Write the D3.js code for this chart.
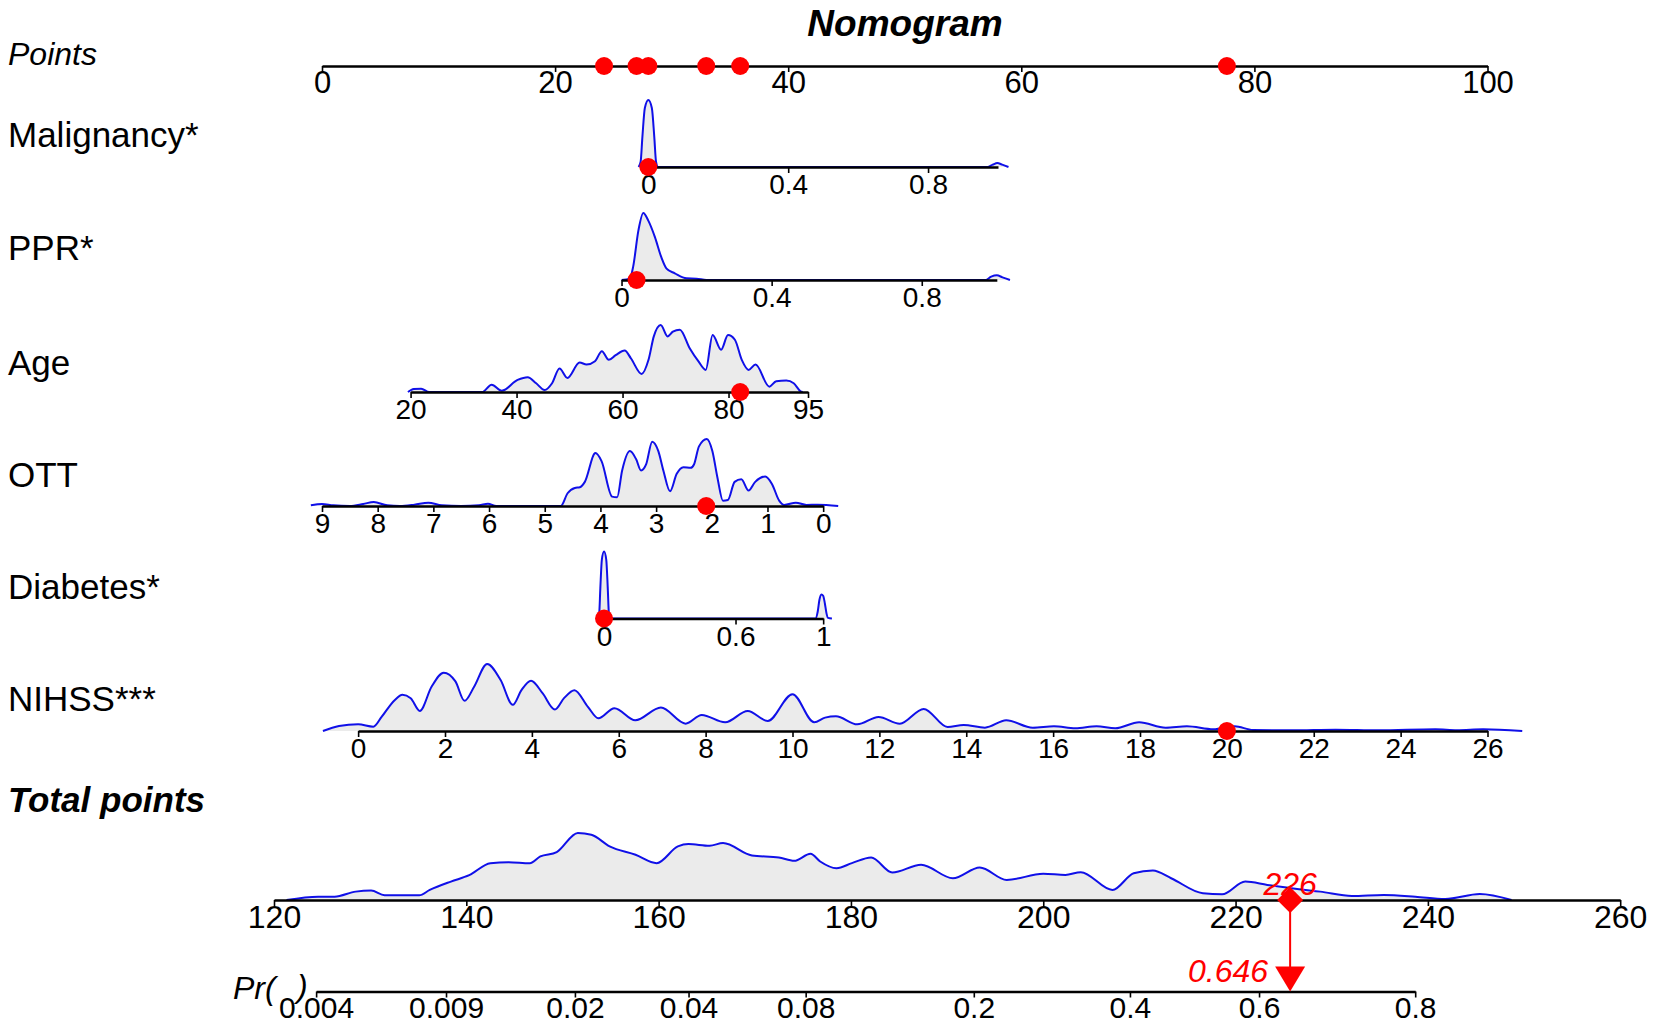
<!DOCTYPE html>
<html>
<head>
<meta charset="utf-8">
<script src="https://cdn.jsdelivr.net/npm/d3@7"></script>
<style>
  body { margin: 0; background: #fff; }
</style>
</head>
<body>
<div id="container"></div>
<script>
const container = document.getElementById('container');

const w = 1654;
const h = 1026;
const FONT = '"Liberation Sans", Arial, sans-serif';

// ---- data ----
const pointTicks = [0, 20, 40, 60, 80, 100];

const varNames = ['Malignancy*', 'PPR*', 'Age', 'OTT', 'Diabetes*', 'NIHSS***'];
const varDomains = [[0, 1], [0, 1], [20, 95], [9, 0], [0, 1], [0, 26]];
// points given at each end of the variable axis
const varPoints = [[28.0, 58.0], [25.7, 57.9], [7.6, 41.7], [0, 43.0], [24.2, 43.0], [3.1, 100]];
const varTicks = [
  [0, 0.4, 0.8],
  [0, 0.4, 0.8],
  [20, 40, 60, 80, 95],
  [9, 8, 7, 6, 5, 4, 3, 2, 1, 0],
  [0, 0.6, 1],
  [0, 2, 4, 6, 8, 10, 12, 14, 16, 18, 20, 22, 24, 26]
];
// the patient shown with red dots
const patientValues = [0, 0.04, 82.2, 2.1, 0, 20];

// density outlines: [value, relative height]
const malignancyDens = [[-0.028, 0], [-0.022, 0.08], [-0.017, 0.45], [-0.01, 0.88], [0, 1], [0.01, 0.88],
  [0.017, 0.45], [0.022, 0.08], [0.028, 0], [0.97, 0], [0.985, 0.035], [0.998, 0.06], [1.012, 0.035], [1.03, 0]];
const pprDens = [[0, 0], [0.022, 0.02], [0.031, 0.2], [0.045, 0.74], [0.058, 1.0], [0.071, 0.89], [0.089, 0.64],
  [0.106, 0.34], [0.12, 0.17], [0.142, 0.1], [0.173, 0.025], [0.2, 0.02], [0.226, 0], [0.97, 0],
  [0.985, 0.05], [1.0, 0.07], [1.015, 0.04], [1.035, 0]];
const ageDens = [[19.5, 0], [20.6, 0.045], [22, 0.05], [23.5, 0], [33.5, 0], [35.3, 0.11], [37.2, 0.02],
  [40.2, 0.18], [42.1, 0.22], [43.7, 0.13], [45.3, 0.03], [46.7, 0.13], [48.1, 0.35], [49.6, 0.21],
  [51.9, 0.44], [53.2, 0.41], [54.8, 0.46], [56.1, 0.61], [57.4, 0.48], [58.7, 0.55], [60.4, 0.62],
  [61.6, 0.5], [63.6, 0.27], [64.9, 0.48], [65.9, 0.83], [67.2, 1.0], [68.5, 0.83], [69.5, 0.9],
  [70.8, 0.93], [72.7, 0.65], [74.3, 0.46], [75.7, 0.33], [77.0, 0.85], [78.6, 0.63], [79.9, 0.85],
  [81.2, 0.78], [82.5, 0.48], [83.8, 0.33], [85.1, 0.41], [87.7, 0.08], [89.0, 0.16], [90.9, 0.17],
  [92.3, 0.13], [93.6, 0.01], [94, 0]];
const ottDens = [[9.2, 0.01], [9.0, 0.03], [8.8, 0.01], [8.5, 0], [8.26, 0.03], [8.07, 0.06], [7.83, 0.01],
  [7.6, 0], [7.34, 0.02], [7.09, 0.05], [6.85, 0.01], [6.5, 0], [6.18, 0.01], [6.02, 0.035], [5.87, 0],
  [4.71, 0], [4.59, 0.19], [4.46, 0.27], [4.37, 0.28], [4.28, 0.36], [4.09, 0.79], [3.98, 0.67],
  [3.79, 0.14], [3.70, 0.13], [3.61, 0.53], [3.47, 0.82], [3.36, 0.70], [3.27, 0.53], [3.18, 0.62],
  [3.07, 0.96], [2.96, 0.82], [2.87, 0.53], [2.75, 0.22], [2.63, 0.48], [2.51, 0.58], [2.38, 0.57],
  [2.32, 0.62], [2.23, 0.89], [2.09, 1.0], [1.99, 0.82], [1.90, 0.43], [1.80, 0.08], [1.71, 0.09],
  [1.59, 0.36], [1.47, 0.40], [1.34, 0.23], [1.22, 0.36], [1.04, 0.44], [0.92, 0.33], [0.79, 0.08],
  [0.70, 0.015], [0.49, 0.05], [0.30, 0.015], [0.1, 0.02], [-0.27, 0]];
const diabetesDens = [[-0.028, 0], [-0.022, 0.08], [-0.017, 0.45], [-0.01, 0.88], [0, 1], [0.01, 0.88],
  [0.017, 0.45], [0.022, 0.08], [0.028, 0], [0.965, 0], [0.975, 0.1], [0.983, 0.28], [0.992, 0.36],
  [1.0, 0.34], [1.008, 0.22], [1.015, 0.08], [1.022, 0.01], [1.04, 0]];
const nihssDens = [[-0.81, 0], [-0.44, 0.075], [0, 0.10], [0.35, 0.065], [0.54, 0.21], [0.84, 0.46],
  [1.02, 0.54], [1.21, 0.49], [1.42, 0.30], [1.69, 0.66], [1.97, 0.87], [2.24, 0.74], [2.45, 0.45],
  [2.67, 0.66], [2.97, 1.0], [3.28, 0.76], [3.56, 0.39], [3.76, 0.61], [3.98, 0.75], [4.25, 0.56],
  [4.53, 0.32], [4.74, 0.49], [4.98, 0.61], [5.29, 0.36], [5.53, 0.19], [5.90, 0.34], [6.38, 0.16],
  [6.97, 0.35], [7.54, 0.11], [7.91, 0.24], [8.45, 0.13], [8.97, 0.30], [9.43, 0.15], [10.0, 0.55],
  [10.5, 0.13], [10.75, 0.2], [11.0, 0.22], [11.49, 0.10], [11.98, 0.21], [12.47, 0.11], [13.02, 0.33],
  [13.57, 0.06], [13.94, 0.09], [14.43, 0.05], [14.92, 0.16], [15.53, 0.05], [16.02, 0.07], [16.51, 0.04],
  [17.0, 0.07], [17.43, 0.04], [17.98, 0.13], [18.59, 0.05], [19.08, 0.07], [19.69, 0.025], [20.18, 0.07],
  [20.6, 0.015], [21.5, 0.01], [22.5, 0.02], [23.5, 0.01], [24.8, 0.025], [25.3, 0.012], [25.9, 0.025],
  [26.8, 0]];
const varDens = [malignancyDens, pprDens, ageDens, ottDens, diabetesDens, nihssDens];

const totalTicks = [120, 140, 160, 180, 200, 220, 240, 260];
const totalDens = [[121.3, 0], [124.6, 0.05], [126.3, 0.05], [128.5, 0.125], [130.1, 0.14], [131.5, 0.07],
  [135.1, 0.07], [136.2, 0.15], [138.4, 0.275], [140.3, 0.37], [142.5, 0.55], [144.4, 0.565], [146.6, 0.55],
  [147.7, 0.65], [149.4, 0.715], [151.6, 1.0], [153.0, 0.975], [154.9, 0.8], [157.6, 0.675], [159.8, 0.55],
  [162.0, 0.8], [163.1, 0.835], [165.3, 0.81], [166.7, 0.85], [169.7, 0.665], [172.5, 0.635], [174.1, 0.585],
  [175.8, 0.69], [176.8, 0.575], [178.5, 0.475], [180.1, 0.55], [182.1, 0.635], [184.3, 0.41], [187.3, 0.525],
  [190.6, 0.325], [193.4, 0.485], [196.2, 0.3], [200.0, 0.39], [202.3, 0.375], [203.9, 0.415], [207.2, 0.15],
  [209.4, 0.4], [211.4, 0.44], [213.3, 0.325], [216.6, 0.1], [218.6, 0.085], [221.0, 0.275], [223.3, 0.225],
  [226.6, 0.16], [228.8, 0.125], [232.1, 0.06], [235.4, 0.075], [238.7, 0.05], [241.8, 0.015], [245.4, 0.09],
  [248.7, 0]];

const prTicks = [0.004, 0.009, 0.02, 0.04, 0.08, 0.2, 0.4, 0.6, 0.8];
const logitIntercept = -13.03;
const logitSlope = 0.0604;

// ---- layout ----
const pointsY = 66;
const rowY = [167, 280, 392, 506, 618.5, 731];
const labelY = [147, 260, 375, 487, 599, 711];
const totalY = 900;
const prY = 991.5;

const svg = d3.select(container)
    .append('svg')
    .attr('width', w)
    .attr('height', h)
    .style('background', '#fff');

const pointsX = d3.scaleLinear().domain([0, 100]).range([322, 1487.5]);
const totalX = d3.scaleLinear().domain([120, 260]).range([274, 1620.2]);
const densH = d3.scaleLinear().domain([0, 1]).range([0, 67]);

const logit = p => Math.log(p / (1 - p));
const tpOf = p => (logit(p) - logitIntercept) / logitSlope;
const prX = d3.scaleLinear()
    .domain([logit(prTicks[0]), logit(prTicks[prTicks.length - 1])])
    .range([totalX(tpOf(prTicks[0])), totalX(tpOf(prTicks[prTicks.length - 1]))]);

function drawAxis(y, scale, ticks, fs, off, fmt) {
  const axis = d3.axisBottom(scale).tickValues(ticks).tickSize(6).tickSizeOuter(0)
      .tickFormat(fmt || (d => String(d)));
  const g = svg.append('g')
      .attr('transform', `translate(0,${y})`)
      .call(axis)
      .attr('font-size', fs)
      .attr('font-family', FONT);
  g.select('.domain').attr('stroke', '#000').attr('stroke-width', 2.5);
  g.selectAll('.tick line').attr('stroke', '#000').attr('stroke-width', 1.6);
  g.selectAll('.tick text').attr('dy', null).attr('y', off).attr('fill', '#000');
  return g;
}

function drawDensity(y, scale, data) {
  const pts = data.slice().sort((a, b) => scale(a[0]) - scale(b[0]));
  const area = d3.area()
      .x(d => scale(d[0]))
      .y0(y)
      .y1(d => y - densH(d[1]))
      .curve(d3.curveMonotoneX);
  const line = d3.line()
      .x(d => scale(d[0]))
      .y(d => y - densH(d[1]))
      .curve(d3.curveMonotoneX);
  svg.append('path').datum(pts).attr('d', area).attr('fill', '#ebebeb');
  svg.append('path').datum(pts).attr('d', line)
      .attr('fill', 'none').attr('stroke', '#1010e8').attr('stroke-width', 2);
}

function rowLabel(txt, y, fs, style, weight) {
  svg.append('text')
      .attr('x', 8)
      .attr('y', y)
      .attr('font-family', FONT)
      .attr('font-size', fs)
      .attr('font-style', style || 'normal')
      .attr('font-weight', weight || 'normal')
      .text(txt);
}

// title
svg.append('text')
    .attr('x', 905)
    .attr('y', 36)
    .attr('text-anchor', 'middle')
    .attr('font-family', FONT)
    .attr('font-size', 37)
    .attr('font-style', 'italic')
    .attr('font-weight', 'bold')
    .text('Nomogram');

// points row
rowLabel('Points', 65, 32, 'italic');
drawAxis(pointsY, pointsX, pointTicks, 31, 27);

let total = 0;
const dotXs = [];

varNames.forEach((name, i) => {
  const toPoints = d3.scaleLinear().domain(varDomains[i]).range(varPoints[i]);
  const x = d3.scaleLinear().domain(varDomains[i]).range(varPoints[i].map(pointsX));
  rowLabel(name, labelY[i], 35);
  drawDensity(rowY[i], x, varDens[i]);
  drawAxis(rowY[i], x, varTicks[i], 28, 27);
  total += toPoints(patientValues[i]);
  dotXs.push(x(patientValues[i]));
  svg.append('circle')
      .attr('cx', x(patientValues[i]))
      .attr('cy', rowY[i])
      .attr('r', 9)
      .attr('fill', '#ff0000');
});

svg.selectAll('circle.pt')
    .data(dotXs)
    .enter()
    .append('circle')
    .attr('class', 'pt')
    .attr('cx', d => d)
    .attr('cy', pointsY)
    .attr('r', 9)
    .attr('fill', '#ff0000');

// total points
rowLabel('Total points', 812, 35, 'italic', 'bold');
drawDensity(totalY, totalX, totalDens);
drawAxis(totalY, totalX, totalTicks, 32, 28);

// probability
drawAxis(prY, prX, prTicks.map(logit), 30, 26, (d, i) => prTicks[i]);
svg.append('text')
    .attr('x', 233).attr('y', 999)
    .attr('font-family', FONT).attr('font-size', 32).attr('font-style', 'italic')
    .text('Pr(');
svg.append('text')
    .attr('x', 297).attr('y', 997)
    .attr('font-family', FONT).attr('font-size', 32).attr('font-style', 'italic')
    .text(')');

// patient total and predicted probability
const prob = 1 / (1 + Math.exp(-(logitIntercept + logitSlope * total)));
const tx = totalX(total);
const px = prX(logit(prob));

svg.append('line')
    .attr('x1', tx).attr('x2', px)
    .attr('y1', totalY).attr('y2', prY - 24)
    .attr('stroke', '#ff0000').attr('stroke-width', 2);
svg.append('path')
    .attr('d', `M${px - 15},${prY - 25}L${px + 15},${prY - 25}L${px},${prY}Z`)
    .attr('fill', '#ff0000');
svg.append('path')
    .attr('d', `M${tx},${totalY - 13}L${tx + 13},${totalY}L${tx},${totalY + 13}L${tx - 13},${totalY}Z`)
    .attr('fill', '#ff0000');

svg.append('text')
    .attr('x', tx).attr('y', 895)
    .attr('text-anchor', 'middle')
    .attr('font-family', FONT).attr('font-size', 32).attr('font-style', 'italic')
    .attr('fill', '#ff0000')
    .text(d3.format('.0f')(total));
svg.append('text')
    .attr('x', px - 22).attr('y', 982)
    .attr('text-anchor', 'end')
    .attr('font-family', FONT).attr('font-size', 32).attr('font-style', 'italic')
    .attr('fill', '#ff0000')
    .text(d3.format('.3f')(prob));
</script>
</body>
</html>
